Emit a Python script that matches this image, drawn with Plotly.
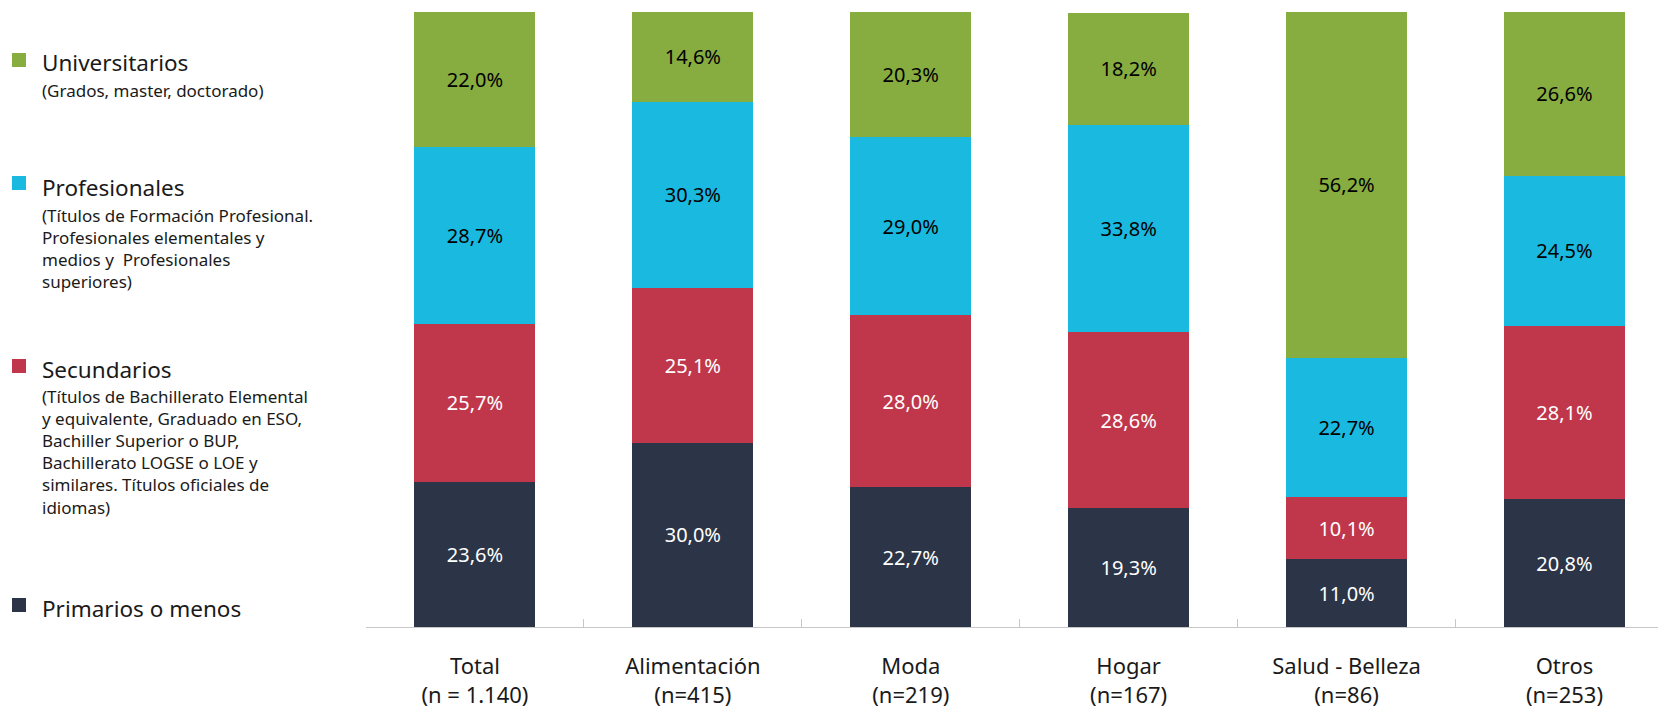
import plotly.graph_objects as go

categories = ["Total", "Alimentación", "Moda", "Hogar", "Salud - Belleza", "Otros"]
n_labels = ["(n = 1.140)", "(n=415)", "(n=219)", "(n=167)", "(n=86)", "(n=253)"]

primarios = [23.6, 30.0, 22.7, 19.3, 11.0, 20.8]
secundarios = [25.7, 25.1, 28.0, 28.6, 10.1, 28.1]
profesionales = [28.7, 30.3, 29.0, 33.8, 22.7, 24.5]
universitarios = [22.0, 14.6, 20.3, 18.2, 56.2, 26.6]

series_names = ["Primarios o menos", "Secundarios", "Profesionales", "Universitarios"]
series_values = [primarios, secundarios, profesionales, universitarios]
series_colors = ["#2C3447", "#C0374B", "#1AB9DF", "#87AC40"]
text_colors = ["white", "white", "black", "black"]

legend_subtexts = {
    "Universitarios": "(Grados, master, doctorado)",
    "Profesionales": "(Títulos de Formación Profesional.<br>Profesionales elementales y<br>medios y  Profesionales<br>superiores)",
    "Secundarios": "(Títulos de Bachillerato Elemental<br>y equivalente, Graduado en ESO,<br>Bachiller Superior o BUP,<br>Bachillerato LOGSE o LOE y<br>similares. Títulos oficiales de<br>idiomas)",
    "Primarios o menos": "",
}

FONT = "Noto Sans"
W, H = 1658, 709
L, R_EDGE, TOP, BOT = 366, 1658, 12, 627
PW, PH = R_EDGE - L, BOT - TOP
CAT_W = 217.9

fig = go.Figure()
for name, vals, col, tcol in zip(series_names, series_values, series_colors, text_colors):
    fig.add_trace(go.Bar(
        x=categories, y=vals, name=name,
        marker=dict(color=col, line=dict(width=0)),
        text=[f"{v:.1f}%".replace(".", ",") for v in vals],
        textposition="inside", insidetextanchor="middle",
        textfont=dict(family=FONT, size=20, color=tcol),
        textangle=0,
        width=0.555,
        showlegend=False,
        hoverinfo="skip",
    ))

def px_x(px):
    return (px - L) / PW

def px_y(py):
    return (BOT - py) / PH

legend_pos = {
    "Universitarios": (53, 63),
    "Profesionales": (176, 188),
    "Secundarios": (359, 369),
    "Primarios o menos": (598, 608),
}
shapes = []
annotations = []
for name, col in zip(series_names, series_colors):
    sq_top, title_c = legend_pos[name]
    shapes.append(dict(type="rect", xref="paper", yref="paper",
                       x0=px_x(12), x1=px_x(26), y0=px_y(sq_top + 14), y1=px_y(sq_top),
                       fillcolor=col, line=dict(width=0)))
    annotations.append(dict(xref="paper", yref="paper", x=px_x(40), y=px_y(title_c),
                            xanchor="left", yanchor="middle", showarrow=False,
                            text=name, align="left",
                            font=dict(family=FONT, size=22.5, color="#1A1A1A")))
    sub = legend_subtexts[name]
    if sub:
        annotations.append(dict(xref="paper", yref="paper", x=px_x(40), y=px_y(title_c + 14),
                                xanchor="left", yanchor="top", showarrow=False,
                                text=sub, align="left",
                                font=dict(family=FONT, size=17, color="#1A1A1A")))

fig.update_layout(
    barmode="stack",
    width=W, height=H, autosize=False,
    margin=dict(l=L, r=0, t=TOP, b=H - BOT, pad=0),
    paper_bgcolor="white", plot_bgcolor="white",
    shapes=shapes, annotations=annotations,
    font=dict(family=FONT),
)
fig.update_xaxes(
    type="category",
    range=[-0.5, -0.5 + PW / CAT_W],
    tickvals=categories,
    ticktext=[f"{c}<br>{n}" for c, n in zip(categories, n_labels)],
    tickson="boundaries",
    ticks="inside", ticklen=8, tickcolor="#C8C8C8", tickwidth=1,
    showline=True, linecolor="#C8C8C8", linewidth=1,
    showgrid=False, zeroline=False,
    tickfont=dict(family=FONT, size=22, color="#1A1A1A"),
    ticklabelstandoff=20,
)
fig.update_yaxes(range=[0, 100], visible=False, showgrid=False, zeroline=False)

fig.write_html("out.html", config={"displayModeBar": False},
               post_script="document.body.style.margin='0';")
